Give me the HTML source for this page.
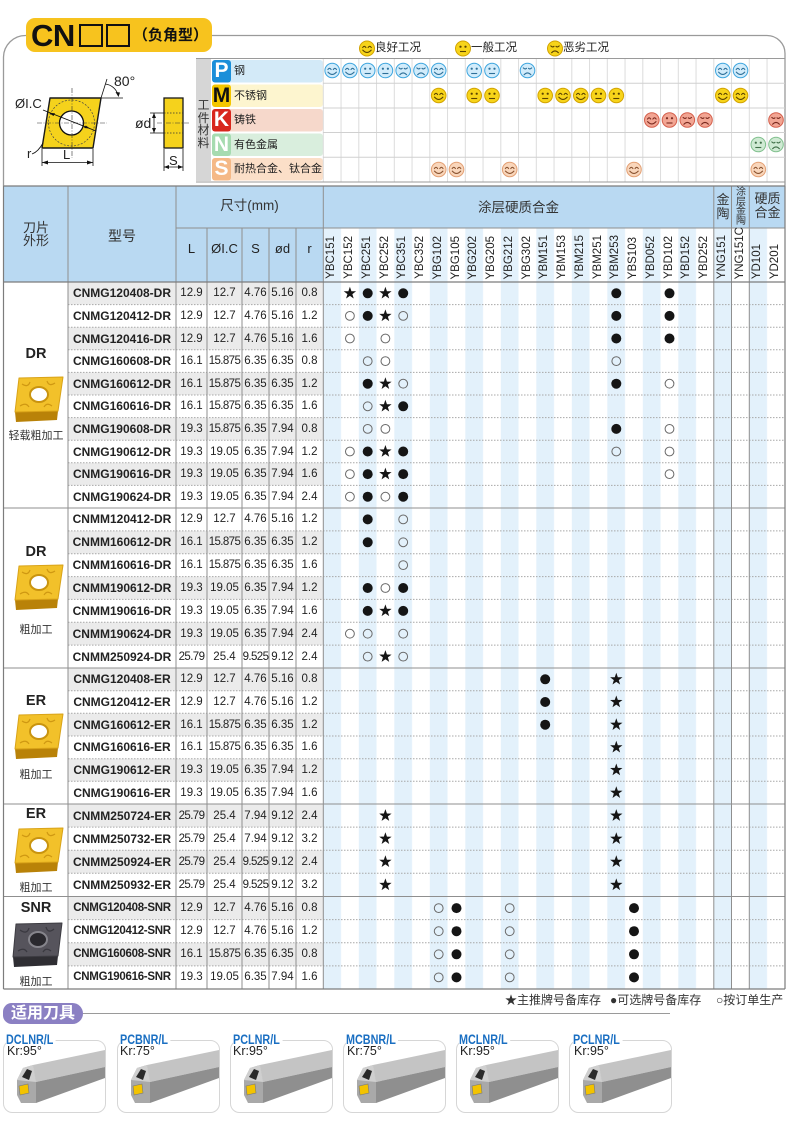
<!DOCTYPE html>
<html><head><meta charset="utf-8">
<style>
*{margin:0;padding:0;box-sizing:border-box}
body{width:790px;height:1148px;background:#fff;font-family:"Liberation Sans","Noto Sans CJK SC",sans-serif;color:#222;position:relative;overflow:hidden}
.a{position:absolute}
.r{position:absolute;left:68px;height:22px;display:flex;align-items:center;font-size:11.5px;color:#222}
.r b{width:108px;text-align:center;font-size:12px;white-space:nowrap}
.r i{font-style:normal;text-align:center;white-space:nowrap}
.r i:nth-of-type(1){width:31px}.r i:nth-of-type(2){width:35px}.r i:nth-of-type(3){width:27px}.r i:nth-of-type(4){width:27px}.r i:nth-of-type(5){width:27px}
.r .t{letter-spacing:-.6px}
.r.sn b{font-size:11.5px;letter-spacing:-.3px}
.gn{display:flex;height:51px}
.gn div{width:17.75px;flex:none;display:flex;justify-content:center;align-items:flex-end;height:51px}
.gn span{writing-mode:vertical-rl;transform:rotate(180deg);font-size:11.5px;line-height:17.75px;color:#222;white-space:nowrap}
.lt{font-weight:bold;color:#fff;font-size:21px;text-align:center;width:19px;left:212px}
.ml{left:234px;font-size:11px;color:#222}
.gl{width:64px;left:4px;text-align:center}
.tl{font-weight:bold;color:#1a6fc2;font-size:13.5px;transform:scaleX(.8);transform-origin:0 50%;background:#fff;padding-right:3px;line-height:14px}
.kr{font-size:12.5px;color:#222;line-height:13px}
.fP{color:#2d6f98}.fP .c{fill:#d2ecfb;stroke:#3da5de}
.fM{color:#5b4300}.fM .c{fill:#f7d41a;stroke:#d2a300}
.fK{color:#7a2a1f}.fK .c{fill:#f2a593;stroke:#d45f4c}
.fN{color:#3f6f47}.fN .c{fill:#cfead3;stroke:#81c08e}
.fS{color:#8a5330}.fS .c{fill:#f9d6bb;stroke:#e3a074}
.c{stroke-width:1}
</style></head><body>
<svg class="a" style="left:0;top:0" width="790" height="1148" viewBox="0 0 790 1148">
<defs>
<pattern id="st" x="323.3" y="0" width="35.5" height="20" patternUnits="userSpaceOnUse"><rect width="17.75" height="20" fill="#e3f1fb"/></pattern>
<circle id="F" r="5" fill="#151515"/>
<circle id="O" r="4.4" fill="none" stroke="#6a6a6a" stroke-width="1"/>
<polygon id="S" points="0,-6.5 1.53,-2.1 6.18,-2.01 2.47,0.8 3.82,5.26 0,2.6 -3.82,5.26 -2.47,0.8 -6.18,-2.01 -1.53,-2.1" fill="#151515"/>
<g id="fg" fill="none" stroke="currentColor" stroke-width="1.1" stroke-linecap="round"><path d="M-4.3,-1 q1.6,-2.4 3.2,0 M1.1,-1 q1.6,-2.4 3.2,0 M-4.2,1.6 q4.2,4.6 8.4,0"/></g>
<g id="fa"><circle cx="-2.5" cy="-1.8" r="1.1" fill="currentColor"/><circle cx="2.5" cy="-1.8" r="1.1" fill="currentColor"/><path d="M-3,3 h6" stroke="currentColor" stroke-width="1.1"/></g>
<g id="fb" fill="none" stroke="currentColor" stroke-width="1.1" stroke-linecap="round"><path d="M-4.2,-2.6 q1.6,1.8 3.2,0.4 M1,-2.2 q1.6,1.4 3.2,-0.4 M-3.4,4.2 q3.4,-3.6 6.8,0"/></g>
<g id="insG">
<polygon points="1,36 44,35 43,44 2,46" fill="#b98208"/>
<polygon points="5,2 49,1 44,35 1,36" fill="#f2c12a" stroke="#d9a318" stroke-width="1" stroke-linejoin="round"/>
<path d="M8,8 q6,4 8,-2 M41,7 q-6,4 -8,-2 M6,30 q6,-4 9,1 M38,30 q-5,-4 -8,1" stroke="#cf9812" fill="none" stroke-width="1.2"/>
<ellipse cx="25" cy="18.5" rx="9" ry="7.5" fill="#fff" stroke="#c9940f" stroke-width="2"/>
</g>
<g id="insD">
<polygon points="1,36 46,35 45,44 2,46" fill="#2f2e33"/>
<polygon points="4,3 50,2 46,35 1,36" fill="#56545c" stroke="#3d3c42" stroke-width="1" stroke-linejoin="round"/>
<path d="M8,9 q7,5 9,-2 M42,8 q-6,5 -8,-2 M6,30 q6,-4 9,1 M39,30 q-5,-4 -8,1" stroke="#3a3940" fill="none" stroke-width="1.3"/>
<ellipse cx="26" cy="18.5" rx="9" ry="7.5" fill="#2a292e" stroke="#86858c" stroke-width="2"/>
</g>
<g id="tl">
<polygon points="30,25 102,10 102,27 33,42" fill="#c4c4c4"/>
<polygon points="33,42 102,27 102,38 33,63" fill="#8f8f8f"/>
<polygon points="14,40 20,28 30,25 33,42 33,63 18,63 14,55" fill="#a9a9a9"/>
<polygon points="14,40 20,28 30,25 33,42" fill="#cfcfcf"/>
<polygon points="16,46 25,44 26,53 17,55" fill="#f3c300" stroke="#777" stroke-width=".6"/>
<path d="M19,37 l5,-8 l5,2 l-3,9 z" fill="#2a2a2a"/>
</g>
</defs>

<path d="M3.5,186 V57 A22,22 0 0 1 25.5,35.5 H767 A18,18 0 0 1 785,53.5 V186" fill="none" stroke="#9a9a9a" stroke-width="1.3"/>
<rect x="26" y="18" width="186" height="34" rx="9" fill="#f7c31e"/>
<rect x="80" y="25" width="22" height="21" fill="#f7c31e" stroke="#111" stroke-width="2"/>
<rect x="107" y="25" width="22" height="21" fill="#f7c31e" stroke="#111" stroke-width="2"/>

<g class="fM"><circle class="c" cx="367" cy="48.5" r="7.5"/><use href="#fg" x="367" y="48.5"/><circle class="c" cx="463" cy="48.5" r="7.5"/><use href="#fa" x="463" y="48.5"/><circle class="c" cx="555" cy="48.5" r="7.5"/><use href="#fb" x="555" y="48.5"/></g>

<polygon points="50,98 101,98 93,148 42,148" fill="#f5d21c" stroke="#1a1a1a" stroke-width="1.4" stroke-linejoin="round"/>
<circle cx="71.5" cy="123" r="23" fill="none" stroke="#444" stroke-width=".7" stroke-dasharray="2 1.5"/>
<circle cx="71.5" cy="123" r="12" fill="#fff" stroke="#111" stroke-width="1.3"/>
<path d="M37,123 H107 M72,88 V158" stroke="#333" stroke-width=".6" stroke-dasharray="5 1.5 1 1.5"/>
<path d="M43,110 L96,131" stroke="#111" stroke-width=".9"/>
<polygon points="49,113 55,113.3 53.5,116" fill="#111"/>
<polygon points="90,128.5 84,128 85.8,125.5" fill="#111"/>
<path d="M101,98 L107,79 M101,98 L123,98" stroke="#111" stroke-width=".8"/>
<path d="M105.5,84 A15,15 0 0 1 118,95" fill="none" stroke="#111" stroke-width=".8"/>
<polygon points="118.5,97 115.5,92 120,92.5" fill="#111"/>
<path d="M32,154 Q38,152 43,143" fill="none" stroke="#111" stroke-width=".8"/>
<path d="M42,149 V166 M93,149 V166 M42,162.5 H93" stroke="#111" stroke-width=".8"/>
<polygon points="42,162.5 48,160.5 48,164.5" fill="#111"/><polygon points="93,162.5 87,160.5 87,164.5" fill="#111"/>
<rect x="164" y="98" width="19" height="50" fill="#f5d21c" stroke="#1a1a1a" stroke-width="1.3"/>
<path d="M164,113 H183 M164,133 H183" stroke="#333" stroke-width=".8" stroke-dasharray="1.5 1.5"/>
<path d="M157,123 H190" stroke="#333" stroke-width=".6" stroke-dasharray="5 1.5 1 1.5"/>
<path d="M150,113 H164 M150,133 H164 M154,113 V133" stroke="#111" stroke-width=".8"/>
<polygon points="154,113 152,118 156,118" fill="#111"/><polygon points="154,133 152,128 156,128" fill="#111"/>
<path d="M164,149 V171 M183,149 V171 M164,167 H183" stroke="#111" stroke-width=".8"/>
<polygon points="164,167 169,165 169,169" fill="#111"/><polygon points="183,167 178,165 178,169" fill="#111"/>

<rect x="196" y="59" width="15" height="122" fill="#d6d6d6"/>
<rect x="212" y="60" width="111" height="22.5" rx="3" fill="#d3eaf8"/>
<rect x="212" y="84.5" width="111" height="22.5" rx="3" fill="#fdf5cf"/>
<rect x="212" y="109" width="111" height="22.5" rx="3" fill="#f6d8cb"/>
<rect x="212" y="133.5" width="111" height="22.5" rx="3" fill="#d9eedd"/>
<rect x="212" y="158" width="111" height="22.5" rx="3" fill="#fbdfc8"/>
<rect x="212" y="60" width="19" height="22.5" rx="3" fill="#1b8fd9"/>
<rect x="212" y="84.5" width="19" height="22.5" rx="3" fill="#f4c600"/>
<rect x="212" y="109" width="19" height="22.5" rx="3" fill="#d8261d"/>
<rect x="212" y="133.5" width="19" height="22.5" rx="3" fill="#a6dbb0"/>
<rect x="212" y="158" width="19" height="22.5" rx="3" fill="#f5b987"/>
<path d="M323.3,58V182 M341.05,58V182 M358.8,58V182 M376.55,58V182 M394.3,58V182 M412.05,58V182 M429.8,58V182 M447.55,58V182 M465.3,58V182 M483.05,58V182 M500.8,58V182 M518.55,58V182 M536.3,58V182 M554.05,58V182 M571.8,58V182 M589.55,58V182 M607.3,58V182 M625.05,58V182 M642.8,58V182 M660.55,58V182 M678.3,58V182 M696.05,58V182 M713.8,58V182 M731.55,58V182 M749.3,58V182 M767.05,58V182" stroke="#dcdcdc" stroke-width="1"/>
<path d="M323,83.2H785 M323,108H785 M323,132.5H785 M323,157.2H785" stroke="#d0d0d0" stroke-width="1"/>
<path d="M196,58.5H785 M196,182H785" stroke="#9a9a9a" stroke-width="1"/>

<g class="fP">
<circle class="c" cx="332.2" cy="70.5" r="7.3"/><use href="#fg" x="332.2" y="70.5"/>
<circle class="c" cx="349.9" cy="70.5" r="7.3"/><use href="#fg" x="349.9" y="70.5"/>
<circle class="c" cx="367.7" cy="70.5" r="7.3"/><use href="#fa" x="367.7" y="70.5"/>
<circle class="c" cx="385.4" cy="70.5" r="7.3"/><use href="#fa" x="385.4" y="70.5"/>
<circle class="c" cx="403.2" cy="70.5" r="7.3"/><use href="#fb" x="403.2" y="70.5"/>
<circle class="c" cx="421" cy="70.5" r="7.3"/><use href="#fb" x="421" y="70.5"/>
<circle class="c" cx="438.7" cy="70.5" r="7.3"/><use href="#fg" x="438.7" y="70.5"/>
<circle class="c" cx="474.2" cy="70.5" r="7.3"/><use href="#fa" x="474.2" y="70.5"/>
<circle class="c" cx="492" cy="70.5" r="7.3"/><use href="#fa" x="492" y="70.5"/>
<circle class="c" cx="527.5" cy="70.5" r="7.3"/><use href="#fb" x="527.5" y="70.5"/>
<circle class="c" cx="722.8" cy="70.5" r="7.3"/><use href="#fg" x="722.8" y="70.5"/>
<circle class="c" cx="740.5" cy="70.5" r="7.3"/><use href="#fg" x="740.5" y="70.5"/>
</g>
<g class="fM">
<circle class="c" cx="438.7" cy="95.5" r="7.3"/><use href="#fg" x="438.7" y="95.5"/>
<circle class="c" cx="474.2" cy="95.5" r="7.3"/><use href="#fa" x="474.2" y="95.5"/>
<circle class="c" cx="492" cy="95.5" r="7.3"/><use href="#fa" x="492" y="95.5"/>
<circle class="c" cx="545.2" cy="95.5" r="7.3"/><use href="#fa" x="545.2" y="95.5"/>
<circle class="c" cx="563" cy="95.5" r="7.3"/><use href="#fg" x="563" y="95.5"/>
<circle class="c" cx="580.8" cy="95.5" r="7.3"/><use href="#fg" x="580.8" y="95.5"/>
<circle class="c" cx="598.5" cy="95.5" r="7.3"/><use href="#fa" x="598.5" y="95.5"/>
<circle class="c" cx="616.3" cy="95.5" r="7.3"/><use href="#fa" x="616.3" y="95.5"/>
<circle class="c" cx="722.8" cy="95.5" r="7.3"/><use href="#fg" x="722.8" y="95.5"/>
<circle class="c" cx="740.5" cy="95.5" r="7.3"/><use href="#fg" x="740.5" y="95.5"/>
</g>
<g class="fK">
<circle class="c" cx="651.8" cy="120" r="7.3"/><use href="#fg" x="651.8" y="120"/>
<circle class="c" cx="669.5" cy="120" r="7.3"/><use href="#fa" x="669.5" y="120"/>
<circle class="c" cx="687.3" cy="120" r="7.3"/><use href="#fb" x="687.3" y="120"/>
<circle class="c" cx="705" cy="120" r="7.3"/><use href="#fb" x="705" y="120"/>
<circle class="c" cx="776" cy="120" r="7.3"/><use href="#fb" x="776" y="120"/>
</g>
<g class="fN">
<circle class="c" cx="758.3" cy="144.5" r="7.3"/><use href="#fa" x="758.3" y="144.5"/>
<circle class="c" cx="776" cy="144.5" r="7.3"/><use href="#fb" x="776" y="144.5"/>
</g>
<g class="fS">
<circle class="c" cx="438.7" cy="169.5" r="7.3"/><use href="#fg" x="438.7" y="169.5"/>
<circle class="c" cx="456.5" cy="169.5" r="7.3"/><use href="#fg" x="456.5" y="169.5"/>
<circle class="c" cx="509.7" cy="169.5" r="7.3"/><use href="#fg" x="509.7" y="169.5"/>
<circle class="c" cx="634" cy="169.5" r="7.3"/><use href="#fg" x="634" y="169.5"/>
<circle class="c" cx="758.3" cy="169.5" r="7.3"/><use href="#fg" x="758.3" y="169.5"/>
</g>

<rect x="3.5" y="186" width="781.5" height="42" fill="#b9d9f2"/>
<rect x="3.5" y="228" width="319.8" height="54" fill="#b9d9f2"/>
<rect x="323.3" y="228" width="461.5" height="761" fill="url(#st)"/>
<g fill="#ebebeb">
<rect x="68" y="282" width="255.3" height="22.6"/><rect x="68" y="327.2" width="255.3" height="22.6"/><rect x="68" y="372.4" width="255.3" height="22.6"/><rect x="68" y="417.6" width="255.3" height="22.6"/><rect x="68" y="462.8" width="255.3" height="22.6"/>
<rect x="68" y="530.9" width="255.3" height="22.8"/><rect x="68" y="576.6" width="255.3" height="22.8"/><rect x="68" y="622.3" width="255.3" height="22.8"/>
<rect x="68" y="668" width="255.3" height="22.7"/><rect x="68" y="713.3" width="255.3" height="22.7"/><rect x="68" y="758.7" width="255.3" height="22.6"/>
<rect x="68" y="804" width="255.3" height="23.1"/><rect x="68" y="850.2" width="255.3" height="23.1"/>
<rect x="68" y="896.5" width="255.3" height="23.1"/><rect x="68" y="942.8" width="255.3" height="23.1"/>
</g>
<path d="M68,304.6H785 M68,327.2H785 M68,349.8H785 M68,372.4H785 M68,395H785 M68,417.6H785 M68,440.2H785 M68,462.8H785 M68,485.4H785 M68,530.9H785 M68,553.7H785 M68,576.6H785 M68,599.4H785 M68,622.3H785 M68,645.1H785 M68,690.7H785 M68,713.3H785 M68,736H785 M68,758.7H785 M68,781.3H785 M68,827.1H785 M68,850.2H785 M68,873.3H785 M68,919.6H785 M68,942.8H785 M68,965.9H785" stroke="#a8a8a8" stroke-width="1" stroke-dasharray="1.5 1.5"/>
<path d="M176,228H785 M3.5,508H785 M3.5,668H785 M3.5,804H785 M3.5,896.5H785 M207,228V989 M242,228V989 M269,228V989 M296,228V989 M68,186V989 M176,186V989 M323.3,186V989 M713.8,186V989 M731.5,186V989 M749.3,186V989" stroke="#8f8f8f" stroke-width="1"/>
<path d="M3.5,186H785 M3.5,282H785 M3.5,989H785 M3.5,186V989 M785,186V989" stroke="#7c7c7c" stroke-width="1.2"/>

<use href="#insG" x="14" y="376"/>
<use href="#insG" x="14" y="564"/>
<use href="#insG" x="14" y="713"/>
<use href="#insG" x="14" y="827"/>
<use href="#insD" x="12" y="921"/>

<use href="#S" x="349.9" y="293.3"/><use href="#F" x="367.7" y="293.3"/><use href="#S" x="385.4" y="293.3"/><use href="#F" x="403.2" y="293.3"/><use href="#F" x="616.3" y="293.3"/><use href="#F" x="669.5" y="293.3"/>
<use href="#O" x="349.9" y="315.9"/><use href="#F" x="367.7" y="315.9"/><use href="#S" x="385.4" y="315.9"/><use href="#O" x="403.2" y="315.9"/><use href="#F" x="616.3" y="315.9"/><use href="#F" x="669.5" y="315.9"/>
<use href="#O" x="349.9" y="338.5"/><use href="#O" x="385.4" y="338.5"/><use href="#F" x="616.3" y="338.5"/><use href="#F" x="669.5" y="338.5"/>
<use href="#O" x="367.7" y="361.1"/><use href="#O" x="385.4" y="361.1"/><use href="#O" x="616.3" y="361.1"/>
<use href="#F" x="367.7" y="383.7"/><use href="#S" x="385.4" y="383.7"/><use href="#O" x="403.2" y="383.7"/><use href="#F" x="616.3" y="383.7"/><use href="#O" x="669.5" y="383.7"/>
<use href="#O" x="367.7" y="406.3"/><use href="#S" x="385.4" y="406.3"/><use href="#F" x="403.2" y="406.3"/>
<use href="#O" x="367.7" y="428.9"/><use href="#O" x="385.4" y="428.9"/><use href="#F" x="616.3" y="428.9"/><use href="#O" x="669.5" y="428.9"/>
<use href="#O" x="349.9" y="451.5"/><use href="#F" x="367.7" y="451.5"/><use href="#S" x="385.4" y="451.5"/><use href="#F" x="403.2" y="451.5"/><use href="#O" x="616.3" y="451.5"/><use href="#O" x="669.5" y="451.5"/>
<use href="#O" x="349.9" y="474.1"/><use href="#F" x="367.7" y="474.1"/><use href="#S" x="385.4" y="474.1"/><use href="#F" x="403.2" y="474.1"/><use href="#O" x="669.5" y="474.1"/>
<use href="#O" x="349.9" y="496.7"/><use href="#F" x="367.7" y="496.7"/><use href="#O" x="385.4" y="496.7"/><use href="#F" x="403.2" y="496.7"/>
<use href="#F" x="367.7" y="519.4"/><use href="#O" x="403.2" y="519.4"/>
<use href="#F" x="367.7" y="542.3"/><use href="#O" x="403.2" y="542.3"/>
<use href="#O" x="403.2" y="565.1"/>
<use href="#F" x="367.7" y="588"/><use href="#O" x="385.4" y="588"/><use href="#F" x="403.2" y="588"/>
<use href="#F" x="367.7" y="610.9"/><use href="#S" x="385.4" y="610.9"/><use href="#F" x="403.2" y="610.9"/>
<use href="#O" x="349.9" y="633.7"/><use href="#O" x="367.7" y="633.7"/><use href="#O" x="403.2" y="633.7"/>
<use href="#O" x="367.7" y="656.6"/><use href="#S" x="385.4" y="656.6"/><use href="#O" x="403.2" y="656.6"/>
<use href="#F" x="545.2" y="679.3"/><use href="#S" x="616.3" y="679.3"/>
<use href="#F" x="545.2" y="702"/><use href="#S" x="616.3" y="702"/>
<use href="#F" x="545.2" y="724.7"/><use href="#S" x="616.3" y="724.7"/>
<use href="#S" x="616.3" y="747.3"/>
<use href="#S" x="616.3" y="770"/>
<use href="#S" x="616.3" y="792.7"/>
<use href="#S" x="385.4" y="815.6"/><use href="#S" x="616.3" y="815.6"/>
<use href="#S" x="385.4" y="838.7"/><use href="#S" x="616.3" y="838.7"/>
<use href="#S" x="385.4" y="861.8"/><use href="#S" x="616.3" y="861.8"/>
<use href="#S" x="385.4" y="884.9"/><use href="#S" x="616.3" y="884.9"/>
<use href="#O" x="438.7" y="908.1"/><use href="#F" x="456.5" y="908.1"/><use href="#O" x="509.7" y="908.1"/><use href="#F" x="634" y="908.1"/>
<use href="#O" x="438.7" y="931.2"/><use href="#F" x="456.5" y="931.2"/><use href="#O" x="509.7" y="931.2"/><use href="#F" x="634" y="931.2"/>
<use href="#O" x="438.7" y="954.3"/><use href="#F" x="456.5" y="954.3"/><use href="#O" x="509.7" y="954.3"/><use href="#F" x="634" y="954.3"/>
<use href="#O" x="438.7" y="977.4"/><use href="#F" x="456.5" y="977.4"/><use href="#O" x="509.7" y="977.4"/><use href="#F" x="634" y="977.4"/>

<path d="M83,1013.5H670" stroke="#9a9a9a" stroke-width="1"/>
<g fill="#fff" stroke="#d6d6d6" stroke-width="1">
<rect x="3.5" y="1040.5" width="102" height="72" rx="9"/>
<rect x="117.5" y="1040.5" width="102" height="72" rx="9"/>
<rect x="230.5" y="1040.5" width="102" height="72" rx="9"/>
<rect x="343.5" y="1040.5" width="102" height="72" rx="9"/>
<rect x="456.5" y="1040.5" width="102" height="72" rx="9"/>
<rect x="569.5" y="1040.5" width="102" height="72" rx="9"/>
</g>
<use href="#tl" x="3" y="1040"/>
<use href="#tl" x="117" y="1040"/>
<use href="#tl" x="230" y="1040"/>
<use href="#tl" x="343" y="1040"/>
<use href="#tl" x="456" y="1040"/>
<use href="#tl" x="569" y="1040"/>
</svg>

<div class="a" style="left:31px;top:19px;height:33px;line-height:33px;font-size:31px;font-weight:bold;color:#111;letter-spacing:-.5px">CN</div>
<div class="a" style="left:133px;top:19px;height:33px;line-height:33px;font-size:15px;font-weight:bold;color:#111">（负角型）</div>
<div class="a" style="left:375px;top:41px;font-size:11.5px;line-height:15px">良好工况</div>
<div class="a" style="left:471px;top:41px;font-size:11.5px;line-height:15px">一般工况</div>
<div class="a" style="left:563px;top:41px;font-size:11.5px;line-height:15px">恶劣工况</div>

<div class="a" style="left:15px;top:96px;font-size:13px;line-height:15px">ØI.C</div>
<div class="a" style="left:114px;top:73px;font-size:14px;line-height:16px">80°</div>
<div class="a" style="left:27px;top:146px;font-size:13px;line-height:15px">r</div>
<div class="a" style="left:63px;top:147px;font-size:13px;line-height:15px">L</div>
<div class="a" style="left:135px;top:115px;font-size:14px;line-height:16px">ød</div>
<div class="a" style="left:169px;top:153px;font-size:13px;line-height:15px">S</div>

<div class="a" style="left:196px;top:99px;width:15px;font-size:12px;line-height:12.5px;text-align:center;color:#333">工<br>件<br>材<br>料</div>
<div class="a lt" style="top:60px;height:22.5px;line-height:22.5px">P</div>
<div class="a lt" style="top:84.5px;height:22.5px;line-height:22.5px;color:#111">M</div>
<div class="a lt" style="top:109px;height:22.5px;line-height:22.5px">K</div>
<div class="a lt" style="top:133.5px;height:22.5px;line-height:22.5px">N</div>
<div class="a lt" style="top:158px;height:22.5px;line-height:22.5px">S</div>
<div class="a ml" style="top:64px;line-height:14px">钢</div>
<div class="a ml" style="top:88.5px;line-height:14px">不锈钢</div>
<div class="a ml" style="top:113px;line-height:14px">铸铁</div>
<div class="a ml" style="top:137.5px;line-height:14px">有色金属</div>
<div class="a ml" style="top:162px;line-height:14px">耐热合金、钛合金</div>

<div class="a" style="left:4px;top:221px;width:64px;text-align:center;font-size:13px;line-height:13px;color:#333">刀片<br>外形</div>
<div class="a" style="left:68px;top:228px;width:108px;text-align:center;font-size:14px;line-height:16px;color:#333">型号</div>
<div class="a" style="left:176px;top:198px;width:147px;text-align:center;font-size:13.5px;line-height:16px;color:#333">尺寸(mm)</div>
<div class="a" style="left:176px;top:241px;width:31px;text-align:center;font-size:13px;line-height:16px">L</div>
<div class="a" style="left:207px;top:241px;width:35px;text-align:center;font-size:13px;line-height:16px">ØI.C</div>
<div class="a" style="left:242px;top:241px;width:27px;text-align:center;font-size:13px;line-height:16px">S</div>
<div class="a" style="left:269px;top:241px;width:27px;text-align:center;font-size:13px;line-height:16px">ød</div>
<div class="a" style="left:296px;top:241px;width:27px;text-align:center;font-size:13px;line-height:16px">r</div>
<div class="a" style="left:323px;top:200px;width:391px;text-align:center;font-size:13.5px;line-height:16px;color:#333">涂层硬质合金</div>
<div class="a" style="left:714px;top:193px;width:18px;text-align:center;font-size:13px;line-height:14px;color:#333">金<br>陶</div>
<div class="a" style="left:732px;top:188px;width:18px;text-align:center;font-size:10px;line-height:9.7px;color:#333">涂<br>层<br>金<br>陶</div>
<div class="a" style="left:750px;top:192px;width:35px;text-align:center;font-size:13px;line-height:14px;color:#333">硬质<br>合金</div>

<div class="a gn" style="left:323.3px;top:228px">
<div><span>YBC151</span></div><div><span>YBC152</span></div><div><span>YBC251</span></div><div><span>YBC252</span></div><div><span>YBC351</span></div><div><span>YBC352</span></div><div><span>YBG102</span></div><div><span>YBG105</span></div><div><span>YBG202</span></div><div><span>YBG205</span></div><div><span>YBG212</span></div><div><span>YBG302</span></div><div><span>YBM151</span></div><div><span>YBM153</span></div><div><span>YBM215</span></div><div><span>YBM251</span></div><div><span>YBM253</span></div><div><span>YBS103</span></div><div><span>YBD052</span></div><div><span>YBD102</span></div><div><span>YBD152</span></div><div><span>YBD252</span></div><div><span>YNG151</span></div><div><span>YNG151C</span></div><div><span>YD101</span></div><div><span>YD201</span></div>
</div>

<div class="a gl" style="top:345px;font-size:14.5px;font-weight:bold;line-height:18px">DR</div>
<div class="a gl" style="top:429px;font-size:11px;line-height:14px;color:#333">轻载粗加工</div>
<div class="a gl" style="top:543px;font-size:14.5px;font-weight:bold;line-height:18px">DR</div>
<div class="a gl" style="top:623px;font-size:11px;line-height:14px;color:#333">粗加工</div>
<div class="a gl" style="top:692px;font-size:14.5px;font-weight:bold;line-height:18px">ER</div>
<div class="a gl" style="top:768px;font-size:11px;line-height:14px;color:#333">粗加工</div>
<div class="a gl" style="top:805px;font-size:14.5px;font-weight:bold;line-height:18px">ER</div>
<div class="a gl" style="top:881px;font-size:11px;line-height:14px;color:#333">粗加工</div>
<div class="a gl" style="top:899px;font-size:14.5px;font-weight:bold;line-height:18px">SNR</div>
<div class="a gl" style="top:975px;font-size:11px;line-height:14px;color:#333">粗加工</div>

<div class="r" style="top:282.3px"><b>CNMG120408-DR</b><i>12.9</i><i>12.7</i><i>4.76</i><i>5.16</i><i>0.8</i></div>
<div class="r" style="top:304.9px"><b>CNMG120412-DR</b><i>12.9</i><i>12.7</i><i>4.76</i><i>5.16</i><i>1.2</i></div>
<div class="r" style="top:327.5px"><b>CNMG120416-DR</b><i>12.9</i><i>12.7</i><i>4.76</i><i>5.16</i><i>1.6</i></div>
<div class="r" style="top:350.1px"><b>CNMG160608-DR</b><i>16.1</i><i class="t">15.875</i><i>6.35</i><i>6.35</i><i>0.8</i></div>
<div class="r" style="top:372.7px"><b>CNMG160612-DR</b><i>16.1</i><i class="t">15.875</i><i>6.35</i><i>6.35</i><i>1.2</i></div>
<div class="r" style="top:395.3px"><b>CNMG160616-DR</b><i>16.1</i><i class="t">15.875</i><i>6.35</i><i>6.35</i><i>1.6</i></div>
<div class="r" style="top:417.9px"><b>CNMG190608-DR</b><i>19.3</i><i class="t">15.875</i><i>6.35</i><i>7.94</i><i>0.8</i></div>
<div class="r" style="top:440.5px"><b>CNMG190612-DR</b><i>19.3</i><i>19.05</i><i>6.35</i><i>7.94</i><i>1.2</i></div>
<div class="r" style="top:463.1px"><b>CNMG190616-DR</b><i>19.3</i><i>19.05</i><i>6.35</i><i>7.94</i><i>1.6</i></div>
<div class="r" style="top:485.7px"><b>CNMG190624-DR</b><i>19.3</i><i>19.05</i><i>6.35</i><i>7.94</i><i>2.4</i></div>

<div class="r" style="top:508.4px"><b>CNMM120412-DR</b><i>12.9</i><i>12.7</i><i>4.76</i><i>5.16</i><i>1.2</i></div>
<div class="r" style="top:531.3px"><b>CNMM160612-DR</b><i>16.1</i><i class="t">15.875</i><i>6.35</i><i>6.35</i><i>1.2</i></div>
<div class="r" style="top:554.1px"><b>CNMM160616-DR</b><i>16.1</i><i class="t">15.875</i><i>6.35</i><i>6.35</i><i>1.6</i></div>
<div class="r" style="top:577px"><b>CNMM190612-DR</b><i>19.3</i><i>19.05</i><i>6.35</i><i>7.94</i><i>1.2</i></div>
<div class="r" style="top:599.9px"><b>CNMM190616-DR</b><i>19.3</i><i>19.05</i><i>6.35</i><i>7.94</i><i>1.6</i></div>
<div class="r" style="top:622.7px"><b>CNMM190624-DR</b><i>19.3</i><i>19.05</i><i>6.35</i><i>7.94</i><i>2.4</i></div>
<div class="r" style="top:645.6px"><b>CNMM250924-DR</b><i class="t">25.79</i><i>25.4</i><i class="t">9.525</i><i>9.12</i><i>2.4</i></div>

<div class="r" style="top:668.3px"><b>CNMG120408-ER</b><i>12.9</i><i>12.7</i><i>4.76</i><i>5.16</i><i>0.8</i></div>
<div class="r" style="top:691px"><b>CNMG120412-ER</b><i>12.9</i><i>12.7</i><i>4.76</i><i>5.16</i><i>1.2</i></div>
<div class="r" style="top:713.7px"><b>CNMG160612-ER</b><i>16.1</i><i class="t">15.875</i><i>6.35</i><i>6.35</i><i>1.2</i></div>
<div class="r" style="top:736.3px"><b>CNMG160616-ER</b><i>16.1</i><i class="t">15.875</i><i>6.35</i><i>6.35</i><i>1.6</i></div>
<div class="r" style="top:759px"><b>CNMG190612-ER</b><i>19.3</i><i>19.05</i><i>6.35</i><i>7.94</i><i>1.2</i></div>
<div class="r" style="top:781.7px"><b>CNMG190616-ER</b><i>19.3</i><i>19.05</i><i>6.35</i><i>7.94</i><i>1.6</i></div>

<div class="r" style="top:804.6px"><b>CNMM250724-ER</b><i class="t">25.79</i><i>25.4</i><i>7.94</i><i>9.12</i><i>2.4</i></div>
<div class="r" style="top:827.7px"><b>CNMM250732-ER</b><i class="t">25.79</i><i>25.4</i><i>7.94</i><i>9.12</i><i>3.2</i></div>
<div class="r" style="top:850.8px"><b>CNMM250924-ER</b><i class="t">25.79</i><i>25.4</i><i class="t">9.525</i><i>9.12</i><i>2.4</i></div>
<div class="r" style="top:873.9px"><b>CNMM250932-ER</b><i class="t">25.79</i><i>25.4</i><i class="t">9.525</i><i>9.12</i><i>3.2</i></div>

<div class="r sn" style="top:897.1px"><b>CNMG120408-SNR</b><i>12.9</i><i>12.7</i><i>4.76</i><i>5.16</i><i>0.8</i></div>
<div class="r sn" style="top:920.2px"><b>CNMG120412-SNR</b><i>12.9</i><i>12.7</i><i>4.76</i><i>5.16</i><i>1.2</i></div>
<div class="r sn" style="top:943.3px"><b>CNMG160608-SNR</b><i>16.1</i><i class="t">15.875</i><i>6.35</i><i>6.35</i><i>0.8</i></div>
<div class="r sn" style="top:966.4px"><b>CNMG190616-SNR</b><i>19.3</i><i>19.05</i><i>6.35</i><i>7.94</i><i>1.6</i></div>

<div class="a" style="left:505px;top:993px;font-size:12px;line-height:14px;color:#333;white-space:nowrap">★主推牌号备库存</div>
<div class="a" style="left:610px;top:993px;font-size:12px;line-height:14px;color:#333;white-space:nowrap">●可选牌号备库存</div>
<div class="a" style="left:716px;top:993px;font-size:12px;line-height:14px;color:#333;white-space:nowrap">○按订单生产</div>

<div class="a" style="left:3px;top:1003px;width:80px;height:21px;background:#8b80c3;border-radius:10px 12px 12px 10px;color:#fff;font-weight:bold;font-size:16px;line-height:21px;text-align:center">适用刀具</div>

<div class="a tl" style="left:6px;top:1033px">DCLNR/L</div><div class="a kr" style="left:7px;top:1045px">Kr:95°</div>
<div class="a tl" style="left:120px;top:1033px">PCBNR/L</div><div class="a kr" style="left:120px;top:1045px">Kr:75°</div>
<div class="a tl" style="left:233px;top:1033px">PCLNR/L</div><div class="a kr" style="left:233px;top:1045px">Kr:95°</div>
<div class="a tl" style="left:346px;top:1033px">MCBNR/L</div><div class="a kr" style="left:347px;top:1045px">Kr:75°</div>
<div class="a tl" style="left:459px;top:1033px">MCLNR/L</div><div class="a kr" style="left:460px;top:1045px">Kr:95°</div>
<div class="a tl" style="left:573px;top:1033px">PCLNR/L</div><div class="a kr" style="left:574px;top:1045px">Kr:95°</div>
</body></html>
